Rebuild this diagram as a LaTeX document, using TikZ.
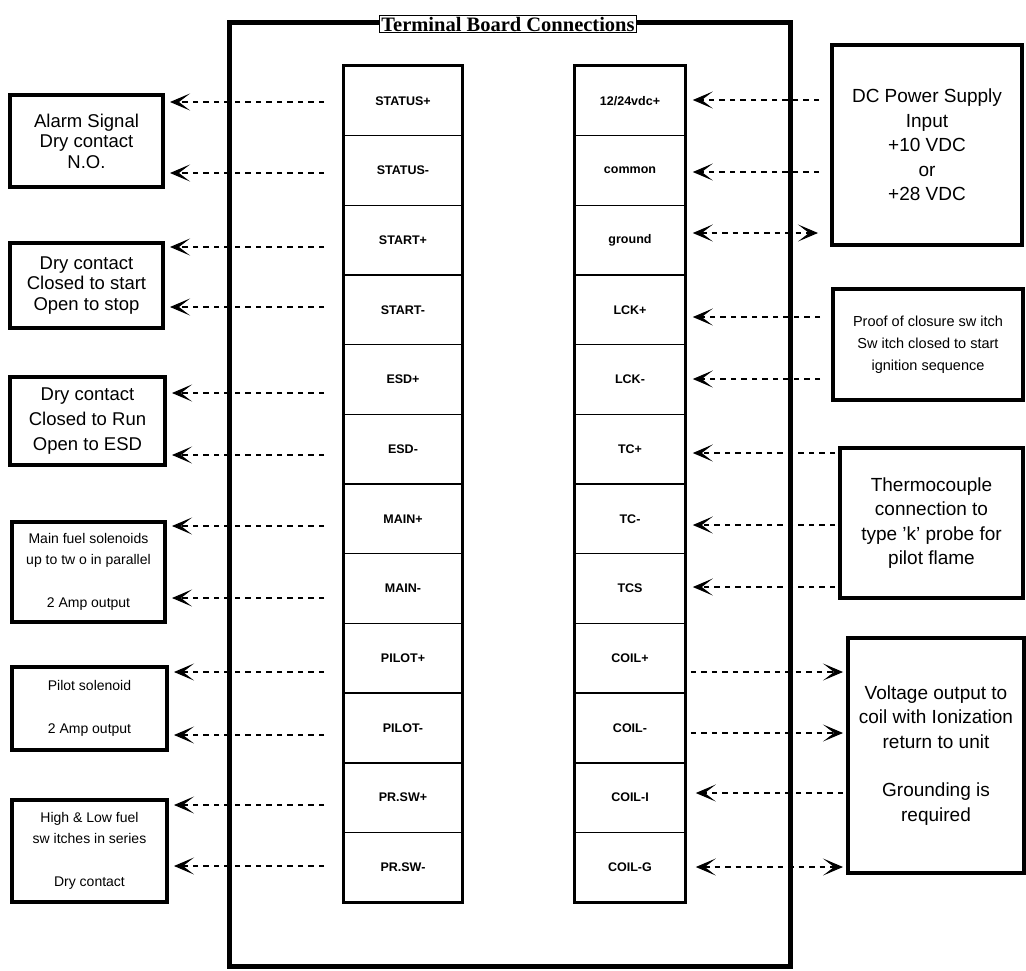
\documentclass[tikz,border=0pt]{standalone}
\usepackage{fontspec}
\setmainfont{Liberation Sans}
\newfontfamily\titlefont{Liberation Serif}
\usetikzlibrary{arrows.meta}
\tikzset{myhead/.tip={Stealth[length=20pt,width=17pt,inset=11pt,line width=1pt]}}
\begin{document}
\begin{tikzpicture}[x=1pt,y=-1pt,
  term/.style={draw, line width=1.6pt, minimum height=69.67pt, inner sep=0pt,
    font=\bfseries\fontsize{12.5}{14}\selectfont},
  tbox/.style={draw, line width=4pt, align=center, inner sep=0pt},
  big/.style={font=\fontsize{18.5}{20.5}\selectfont},
  bigw/.style={font=\fontsize{19}{24.6}\selectfont},
  small/.style={font=\fontsize{14}{21.5}\selectfont},
  conn/.style={line width=2.4pt, dash pattern=on 5.5pt off 5pt},
  frame/.style={draw, line width=5pt, inner sep=0pt}
]
\useasboundingbox (0,0) rectangle (1026,970);

% main board frame
\node[frame, minimum width=561pt, minimum height=944pt] (board) at (509.5,494) {};

% terminal columns
\foreach \t [count=\i] in {STATUS+,STATUS-,START+,START-,ESD+,ESD-,MAIN+,MAIN-,PILOT+,PILOT-,PR.SW+,PR.SW-}
  \node[term, minimum width=118pt] (L\i) at (403,{66+69.67*(\i-0.5)}) {\t};
\foreach \t [count=\i] in {{12/24vdc+},common,ground,LCK+,LCK-,TC+,TC-,TCS,COIL+,COIL-,COIL-I,COIL-G}
  \node[term, minimum width=110pt] (R\i) at (630,{66+69.67*(\i-0.5)}) {\t};
\draw[line width=3.2pt] (L1.north west) rectangle (L12.south east);
\draw[line width=3.2pt] (R1.north west) rectangle (R12.south east);

% title
\node[draw, line width=1pt, fill=white, inner sep=1.5pt,
  font=\titlefont\bfseries\fontsize{20.5}{22}\selectfont] (title) at (508,24) {Terminal Board Connections};

% left text boxes
\node[tbox, big, minimum width=153pt, minimum height=92pt] (alarm) at (86.5,141) {Alarm Signal\\Dry contact\\N.O.};
\node[tbox, big, minimum width=153pt, minimum height=85pt] (start) at (86.5,285.5) {Dry contact\\Closed to start\\Open to stop};
\node[tbox, big, font=\fontsize{18.5}{25}\selectfont, minimum width=155pt, minimum height=88pt] (esd) at (87.5,421) {Dry contact\\Closed to Run\\Open to ESD};
\node[tbox, small, minimum width=153pt, minimum height=100pt] (main) at (88.5,572) {Main fuel solenoids\\up to tw o in parallel\\[21.5pt]2 Amp output};
\node[tbox, small, minimum width=155pt, minimum height=83pt] (pilot) at (89.5,708.5) {Pilot solenoid\\[21.5pt]2 Amp output};
\node[tbox, small, minimum width=155pt, minimum height=102pt] (prsw) at (89.5,851) {High \& Low fuel\\sw itches in series\\[21.5pt]Dry contact};

% right text boxes
\node[tbox, bigw, minimum width=190pt, minimum height=200pt] (dc) at (927,145) {DC Power Supply\\Input\\+10 VDC\\or\\+28 VDC};
\node[tbox, small, font=\fontsize{14.5}{22}\selectfont, minimum width=190pt, minimum height=111pt] (lck) at (928,344.5) {Proof of closure sw itch\\Sw itch closed to start\\ignition sequence};
\node[tbox, bigw, minimum width=183pt, minimum height=150pt] (tc) at (931.5,523) {Thermocouple\\connection to\\type 'k' probe for\\pilot flame};
\node[tbox, bigw, font=\fontsize{19}{24.3}\selectfont, minimum width=176pt, minimum height=235pt] (volt) at (936,755.5) {Voltage output to\\coil with Ionization\\return to unit\\[24.3pt]Grounding is\\required};

% arrow heights
\foreach \y [count=\i] in {102,173,247,307,393,455,526,598,672,735,805,866}
  \coordinate (yl\i) at (0,\y);
\foreach \y [count=\i] in {100,172,233,317,379,453,525,587,672,733,793,867}
  \coordinate (yr\i) at (0,\y);

% left connectors
\foreach \i/\b in {1/alarm,2/alarm,3/start,4/start,5/esd,6/esd,7/main,8/main,9/pilot,10/pilot,11/prsw,12/prsw}
  \draw[conn,-myhead,shorten <=19pt,shorten >=5pt] (L\i.west |- yl\i) -- (\b.east |- yl\i);

% right connectors
\draw[conn,-myhead,shorten <=11pt,shorten >=7pt] (dc.west |- yr1) -- (R1.east |- yr1);
\draw[conn,-myhead,shorten <=11pt,shorten >=7pt] (dc.west |- yr2) -- (R2.east |- yr2);
\draw[conn,myhead-myhead,shorten <=7pt,shorten >=12pt] (R3.east |- yr3) -- (dc.west |- yr3);
\draw[conn,-myhead,shorten <=11pt,shorten >=7pt] (lck.west |- yr4) -- (R4.east |- yr4);
\draw[conn,-myhead,shorten <=11pt,shorten >=7pt] (lck.west |- yr5) -- (R5.east |- yr5);
\draw[conn,-myhead,shorten <=3pt,shorten >=7pt] (tc.west |- yr6) -- (R6.east |- yr6);
\draw[conn,-myhead,shorten <=3pt,shorten >=7pt] (tc.west |- yr7) -- (R7.east |- yr7);
\draw[conn,-myhead,shorten <=3pt,shorten >=7pt] (tc.west |- yr8) -- (R8.east |- yr8);
\draw[conn,-myhead,shorten <=5pt,shorten >=3pt] (R9.east |- yr9) -- (volt.west |- yr9);
\draw[conn,-myhead,shorten <=5pt,shorten >=3pt] (R10.east |- yr10) -- (volt.west |- yr10);
\draw[conn,-myhead,shorten <=3pt,shorten >=10pt] (volt.west |- yr11) -- (R11.east |- yr11);
\draw[conn,myhead-myhead,shorten <=10pt,shorten >=3pt] (R12.east |- yr12) -- (volt.west |- yr12);
\end{tikzpicture}
\end{document}
